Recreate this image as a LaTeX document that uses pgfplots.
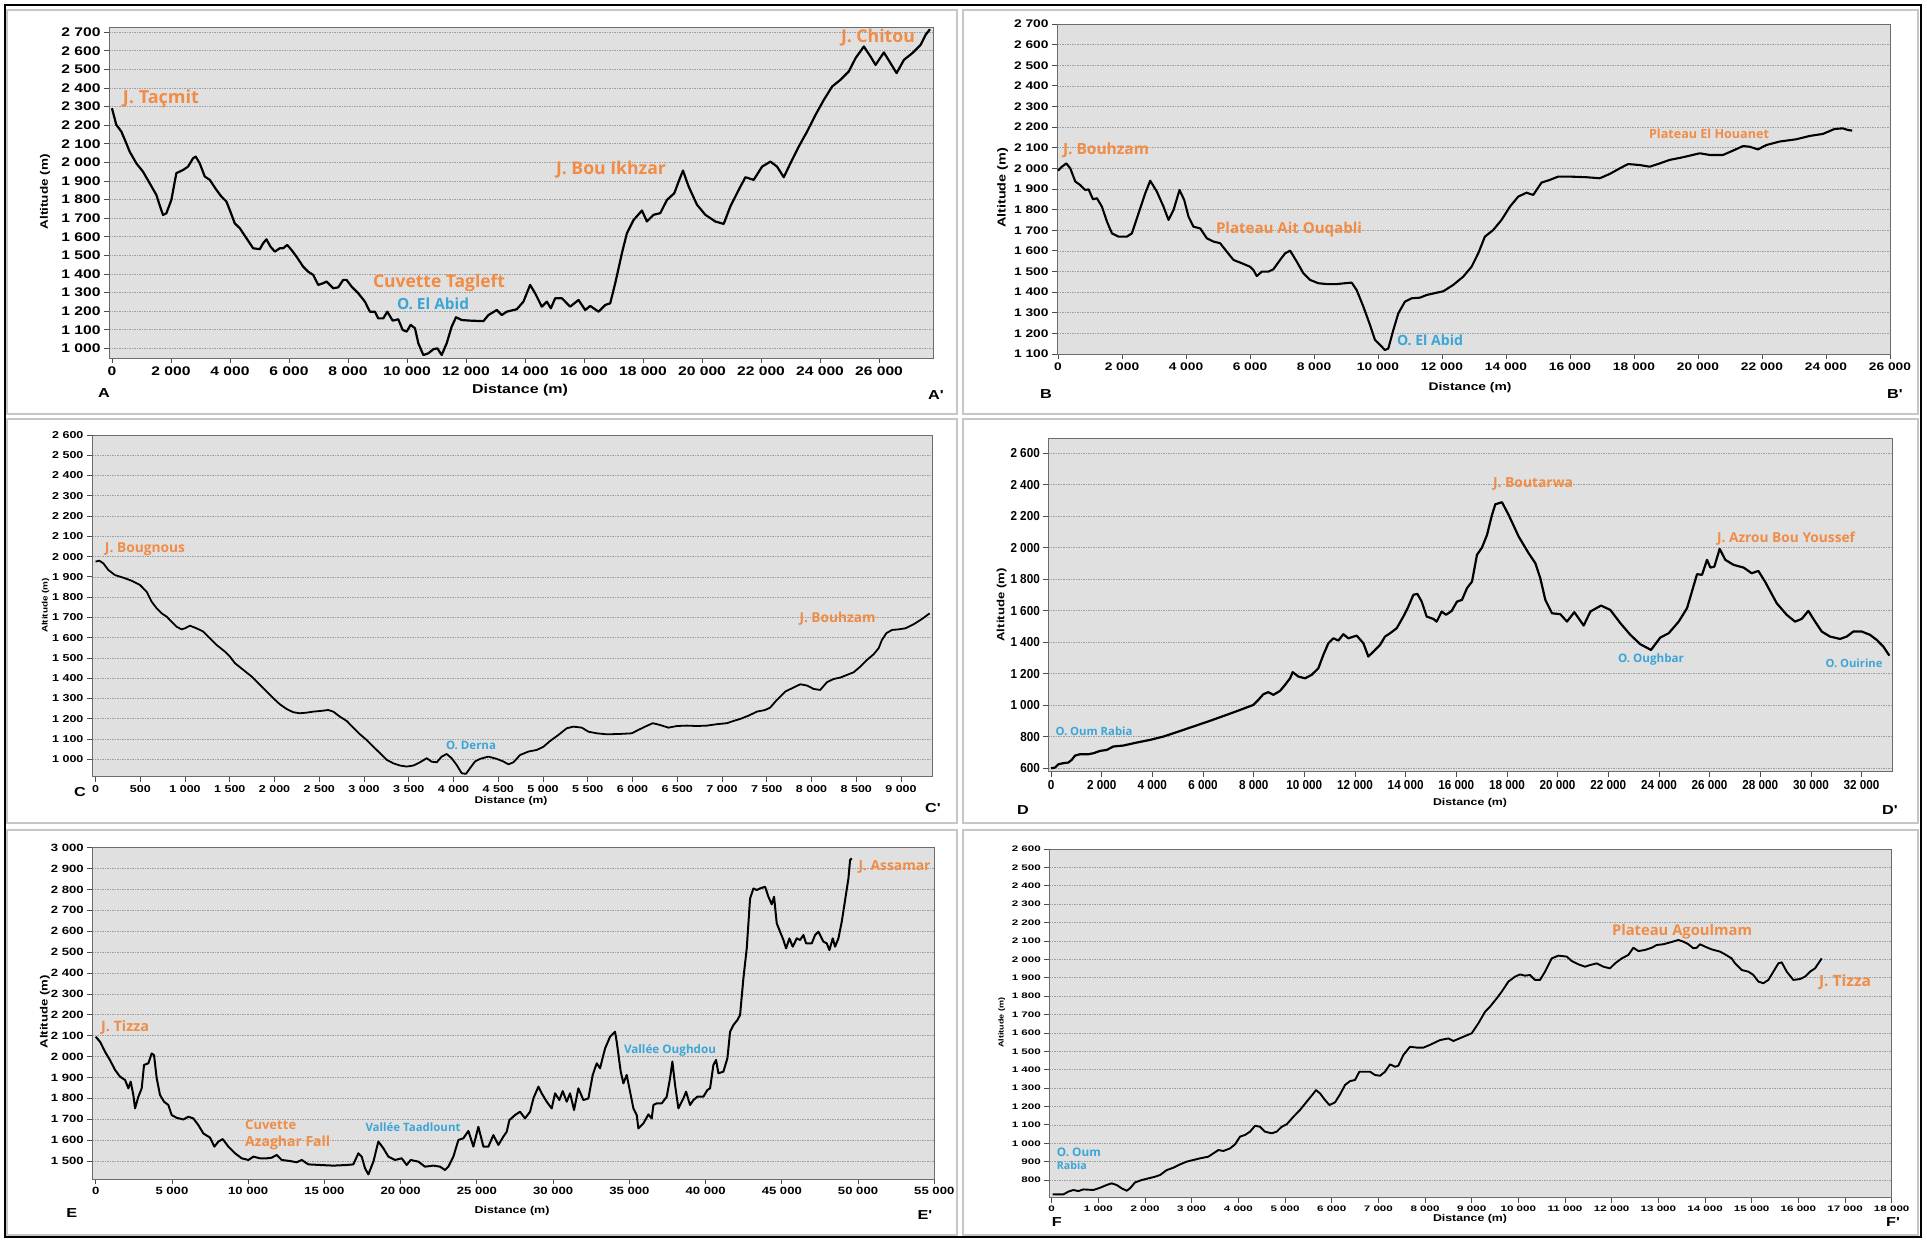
\documentclass[border=0pt]{standalone}
\usepackage{pgfplots}
\pgfplotsset{compat=1.18}
\usepackage{graphicx}
\usepackage{fontspec}
\setmainfont{Liberation Sans}
\newfontfamily\tkA{Liberation Sans}[FakeStretch=1.25]
\newfontfamily\tkN{Liberation Sans}[FakeStretch=0.9]
\newfontfamily\tkW{Liberation Sans}[FakeStretch=1.45]
\newfontfamily\ann{Open Sans}
\definecolor{orn}{RGB}{240,140,70}
\definecolor{blu}{RGB}{60,165,215}
\definecolor{plotbg}{RGB}{224,224,224}
\pgfplotsset{
  prof/.style={
    scale only axis, anchor=south west,
    axis background/.style={fill=plotbg},
    axis line style={draw=gray!85!black, line width=0.8pt},
    tick align=outside, xtick pos=bottom, ytick pos=left,
    major tick length=5pt,
    tick style={draw=gray!60!black, line width=0.8pt},
    ymajorgrids, major grid style={draw=gray!75, dash pattern=on 1.5pt off 1pt, line width=0.7pt},
    scaled ticks=false,
    /pgf/number format/assume math mode=true,
    /pgf/number format/1000 sep={\ },
    /pgf/number format/fixed,
  }
}
\newcommand\lab[4]{\node[text=#1, inner sep=0pt] at (#2) {\resizebox{#3pt}{!}{\ann\bfseries #4}};}
\newcommand\labw[4]{\node[text=#1, inner sep=0pt, anchor=west] at (#2) {\resizebox{#3pt}{!}{\ann\bfseries #4}};}
\newcommand\dist[2]{\node[inner sep=0pt] at (#1) {\resizebox{#2pt}{!}{\tkA\bfseries Distance (m)}};}
\newcommand\alt[2]{\node[inner sep=0pt, rotate=90] at (#1) {\resizebox{#2pt}{!}{\tkA\bfseries Altitude (m)}};}
\newcommand\plet[2]{\node[inner sep=0pt] at (#1) {\tkA\bfseries\fontsize{13}{14}\selectfont #2};}
\begin{document}
\begin{tikzpicture}[x=1pt,y=1pt]
\path[use as bounding box, fill=white] (0,0) rectangle (1927,1241);
% panel frames
\begin{scope}[draw=gray!45, line width=1.5pt]
\draw (7,827) rectangle (957,1231);
\draw (963,827) rectangle (1918,1231);
\draw (7,418) rectangle (957,822);
\draw (963,418) rectangle (1918,822);
\draw (7,6) rectangle (957,411);
\draw (963,6) rectangle (1918,411);
\end{scope}
\draw[line width=2.5pt] (5,4) rectangle (1921,1236);

% ---------------- A
\begin{axis}[prof, at={(109pt,883pt)}, width=824pt, height=331pt,
  xmin=-100, xmax=27830, ymin=948, ymax=2728,
  xtick={0,2000,...,26000}, ytick={1000,1100,...,2700},
  tick label style={font=\tkA\bfseries\fontsize{12.5}{13}\selectfont}]
\addplot[black, line width=2.2pt, line join=round, no markers] coordinates {(0,2291)(147,2202)(317,2166)(486,2103)(600,2058)(826,1995)(1052,1950)(1278,1888)(1505,1825)(1595,1780)(1731,1717)(1844,1726)(2014,1798)(2183,1942)(2410,1959)(2579,1977)(2749,2022)(2839,2031)(2975,1995)(3145,1924)(3314,1906)(3541,1852)(3710,1816)(3880,1789)(3993,1744)(4163,1672)(4333,1646)(4559,1592)(4785,1538)(5011,1533)(5124,1565)(5237,1586)(5373,1547)(5520,1520)(5690,1538)(5803,1538)(5939,1556)(6086,1529)(6256,1493)(6482,1439)(6652,1412)(6821,1395)(6991,1341)(7161,1350)(7274,1359)(7500,1323)(7670,1328)(7839,1368)(7952,1368)(8122,1332)(8348,1296)(8575,1251)(8744,1197)(8914,1197)(9027,1161)(9197,1161)(9333,1197)(9514,1149)(9706,1156)(9853,1099)(9989,1090)(10124,1126)(10271,1108)(10385,1027)(10554,964)(10724,973)(10894,995)(11029,1000)(11176,964)(11346,1027)(11516,1117)(11663,1167)(11855,1152)(12138,1149)(12590,1146)(12762,1179)(13044,1206)(13214,1179)(13382,1197)(13721,1210)(13948,1251)(14174,1341)(14344,1296)(14570,1224)(14740,1251)(14876,1215)(15023,1269)(15250,1269)(15532,1224)(15815,1260)(16041,1206)(16211,1228)(16493,1197)(16720,1233)(16889,1242)(17059,1350)(17285,1511)(17455,1619)(17681,1690)(17964,1741)(18133,1682)(18359,1718)(18586,1727)(18812,1798)(19061,1834)(19208,1897)(19355,1956)(19547,1870)(19830,1772)(20113,1718)(20452,1682)(20735,1669)(20961,1763)(21244,1852)(21470,1920)(21753,1906)(22036,1977)(22319,2004)(22545,1977)(22771,1920)(22997,1995)(23280,2085)(23563,2166)(23846,2255)(24129,2336)(24412,2408)(24694,2444)(24977,2489)(25203,2560)(25486,2623)(25712,2569)(25882,2524)(26165,2591)(26391,2533)(26595,2480)(26844,2551)(27127,2587)(27410,2632)(27580,2686)(27727,2716)};
\end{axis}
\lab{orn}{161,1142.3}{76}{J. Taçmit}
\lab{orn}{439,957.7}{132}{Cuvette Tagleft}
\lab{blu}{433,937.7}{72}{O. El Abid}
\lab{orn}{611,1071.7}{110}{J. Bou Ikhzar}
\lab{orn}{878,1203.3}{74}{J. Chitou}
\alt{45,1049}{75}
\dist{520,851}{96}
\plet{104,848}{A}
\plet{936,846}{A'}

% ---------------- B
\begin{axis}[prof, at={(1057pt,887pt)}, width=833pt, height=330pt,
  xmin=-30, xmax=26000, ymin=1100, ymax=2700,
  xtick={0,2000,...,26000}, ytick={1100,1200,...,2700},
  tick label style={font=\tkA\bfseries\fontsize{11}{12}\selectfont}]
\addplot[black, line width=2.1pt, line join=round, no markers] coordinates {(0,1989)(125,2008)(260,2024)(385,2000)(541,1936)(697,1919)(853,1895)(957,1898)(1093,1850)(1217,1855)(1374,1814)(1530,1742)(1686,1685)(1894,1669)(2154,1669)(2310,1685)(2518,1782)(2726,1879)(2883,1940)(3091,1887)(3299,1814)(3455,1750)(3611,1798)(3798,1895)(3944,1847)(4079,1766)(4235,1717)(4443,1709)(4652,1661)(4860,1645)(5068,1637)(5276,1596)(5484,1556)(5744,1540)(6004,1523)(6108,1507)(6212,1478)(6369,1499)(6577,1499)(6733,1511)(6941,1556)(7097,1588)(7253,1601)(7461,1548)(7670,1491)(7878,1459)(8138,1443)(8398,1439)(8710,1439)(8970,1443)(9178,1446)(9334,1410)(9542,1330)(9750,1241)(9906,1168)(10063,1144)(10219,1119)(10323,1127)(10479,1216)(10635,1297)(10843,1354)(11052,1370)(11312,1373)(11520,1386)(11832,1397)(12040,1404)(12352,1435)(12664,1475)(12924,1523)(13133,1588)(13341,1669)(13601,1701)(13861,1750)(14121,1814)(14382,1863)(14642,1882)(14850,1871)(15110,1931)(15370,1944)(15630,1960)(15995,1960)(16515,1957)(16931,1952)(17243,1973)(17555,2000)(17815,2021)(18180,2016)(18492,2008)(18804,2024)(19116,2041)(19532,2054)(20053,2073)(20365,2065)(20781,2065)(21093,2086)(21405,2108)(21613,2105)(21873,2092)(22134,2113)(22550,2130)(23070,2141)(23486,2157)(23903,2167)(24267,2191)(24527,2194)(24683,2186)(24818,2183)};
\end{axis}
\lab{orn}{1106,1091}{86}{J. Bouhzam}
\lab{orn}{1289,1011}{146}{Plateau Ait Ouqabli}
\lab{blu}{1430,901}{66}{O. El Abid}
\lab{orn}{1709,1107}{120}{Plateau El Houanet}
\alt{1002.7,1053}{80}
\dist{1470,853}{83}
\plet{1046,847}{B}
\plet{1895,847}{B'}

% ---------------- C
\begin{axis}[prof, at={(92pt,464.3pt)}, width=840.7pt, height=341.7pt,
  xmin=-40, xmax=9354, ymin=914, ymax=2600,
  xtick={0,500,...,9000}, ytick={1000,1100,...,2600},
  tick label style={font=\tkA\bfseries\fontsize{10}{11}\selectfont}]
\addplot[black, line width=1.8pt, line join=round, no markers] coordinates {(0,1975)(41,1980)(86,1967)(142,1934)(216,1909)(309,1896)(402,1881)(496,1860)(570,1827)(626,1778)(682,1745)(738,1720)(794,1704)(849,1679)(905,1654)(961,1641)(998,1646)(1054,1659)(1129,1646)(1203,1630)(1278,1597)(1352,1564)(1446,1531)(1502,1506)(1557,1474)(1651,1441)(1744,1408)(1837,1367)(1911,1334)(1986,1301)(2060,1271)(2135,1248)(2209,1232)(2284,1227)(2358,1230)(2433,1235)(2507,1238)(2601,1243)(2656,1235)(2731,1210)(2806,1189)(2880,1156)(2955,1123)(3029,1095)(3104,1062)(3178,1030)(3253,997)(3327,980)(3402,969)(3476,964)(3551,969)(3625,985)(3700,1005)(3756,988)(3812,985)(3867,1013)(3923,1026)(3979,1005)(4035,972)(4091,931)(4139,928)(4184,956)(4240,989)(4296,1002)(4389,1013)(4482,1002)(4557,989)(4613,975)(4669,985)(4743,1021)(4837,1038)(4930,1046)(5005,1062)(5078,1090)(5172,1120)(5265,1153)(5340,1161)(5433,1156)(5507,1136)(5601,1128)(5713,1123)(5861,1125)(5991,1128)(6066,1145)(6141,1161)(6226,1178)(6308,1169)(6402,1156)(6495,1164)(6607,1166)(6719,1164)(6830,1166)(6942,1173)(7054,1178)(7128,1189)(7203,1199)(7296,1215)(7389,1235)(7482,1243)(7538,1255)(7613,1293)(7706,1334)(7799,1354)(7874,1370)(7948,1364)(8023,1347)(8097,1342)(8172,1380)(8246,1396)(8321,1403)(8395,1416)(8470,1429)(8545,1457)(8619,1490)(8694,1518)(8750,1548)(8787,1589)(8836,1622)(8899,1638)(8973,1641)(9048,1646)(9141,1666)(9234,1692)(9320,1720)};
\end{axis}
\lab{orn}{145,692}{80}{J. Bougnous}
\lab{blu}{471,496}{50}{O. Derna}
\lab{orn}{837.5,622}{76}{J. Bouhzam}
\alt{45.5,635.5}{55}
\dist{511,440}{73}
\plet{80,449}{C}
\plet{933,433}{C'}

% ---------------- D
\begin{axis}[prof, at={(1048.3pt,469.3pt)}, width=844.4pt, height=333.4pt,
  xmin=-107, xmax=33230, ymin=578, ymax=2695,
  xtick={0,2000,...,32000}, ytick={600,800,...,2600},
  tick label style={font=\tkN\bfseries\fontsize{13}{14}\selectfont}]
\addplot[black, line width=2.2pt, line join=round, no markers] coordinates {(0,600)(158,604)(290,625)(487,632)(684,636)(816,653)(948,680)(1145,689)(1474,689)(1671,695)(1935,710)(2198,716)(2461,738)(2856,744)(3382,763)(3909,780)(4435,801)(4961,829)(5620,865)(6277,901)(6935,939)(7462,970)(7988,1002)(8186,1034)(8383,1070)(8580,1083)(8778,1066)(9041,1091)(9239,1129)(9436,1171)(9541,1210)(9765,1182)(10028,1171)(10291,1193)(10555,1235)(10752,1320)(10950,1394)(11147,1425)(11344,1411)(11541,1451)(11738,1425)(12067,1442)(12331,1394)(12528,1309)(12792,1351)(12989,1383)(13186,1436)(13384,1457)(13647,1489)(13910,1563)(14107,1626)(14305,1701)(14463,1707)(14634,1658)(14831,1563)(15094,1548)(15226,1531)(15424,1595)(15595,1574)(15818,1599)(16027,1658)(16225,1669)(16422,1743)(16620,1785)(16817,1955)(17014,2001)(17212,2081)(17409,2208)(17541,2276)(17804,2289)(18068,2208)(18462,2071)(18857,1965)(19120,1902)(19318,1806)(19515,1669)(19778,1584)(20107,1578)(20370,1531)(20660,1591)(21029,1506)(21293,1595)(21714,1633)(22082,1605)(22477,1521)(22872,1447)(23267,1387)(23688,1351)(24056,1430)(24385,1457)(24780,1531)(25109,1616)(25504,1832)(25701,1828)(25899,1923)(26030,1874)(26188,1880)(26398,1993)(26622,1923)(26951,1891)(27346,1874)(27662,1838)(27925,1853)(28188,1785)(28649,1648)(29044,1574)(29373,1531)(29637,1548)(29900,1599)(30097,1548)(30426,1468)(30755,1436)(31150,1421)(31413,1436)(31676,1468)(32005,1468)(32334,1447)(32597,1415)(32861,1372)(33098,1315)};
\end{axis}
\lab{blu}{1094,510}{77}{O. Oum Rabia}
\lab{orn}{1533,756.7}{80}{J. Boutarwa}
\lab{orn}{1786,702.7}{138}{J. Azrou Bou Youssef}
\lab{blu}{1651,581.7}{66}{O. Oughbar}
\lab{blu}{1854,577.7}{57}{O. Ouirine}
\alt{1001.7,636}{73}
\dist{1470,437.7}{74}
\plet{1023,431}{D}
\plet{1890,431}{D'}

% ---------------- E
\begin{axis}[prof, at={(92.3pt,62pt)}, width=842pt, height=331.3pt,
  xmin=-223, xmax=55000, ymin=1414, ymax=3000,
  xtick={0,5000,...,55000}, ytick={1500,1600,...,3000},
  tick label style={font=\tkA\bfseries\fontsize{10.5}{11}\selectfont}]
\addplot[black, line width=2pt, line join=round, no markers] coordinates {(0,2095)(284,2071)(612,2023)(940,1983)(1268,1936)(1596,1904)(1924,1888)(2142,1848)(2295,1880)(2470,1816)(2580,1752)(2798,1808)(3017,1848)(3170,1960)(3454,1968)(3673,2015)(3826,2007)(4001,1896)(4219,1816)(4482,1784)(4766,1768)(4985,1720)(5312,1707)(5750,1699)(6078,1712)(6406,1704)(6734,1672)(7061,1632)(7499,1612)(7783,1569)(8045,1593)(8329,1605)(8701,1569)(9138,1537)(9576,1513)(10013,1505)(10341,1521)(10778,1513)(11215,1513)(11543,1516)(11871,1529)(12199,1505)(12745,1500)(13183,1494)(13511,1505)(13948,1484)(14713,1481)(15588,1478)(16462,1481)(16899,1484)(17227,1537)(17446,1521)(17665,1465)(17883,1436)(18211,1497)(18539,1593)(18867,1561)(19195,1521)(19632,1505)(20070,1513)(20398,1481)(20660,1505)(21163,1497)(21600,1473)(22147,1478)(22584,1473)(22912,1457)(23131,1473)(23459,1521)(23787,1601)(24115,1609)(24443,1644)(24771,1569)(25099,1664)(25427,1569)(25753,1569)(26081,1624)(26409,1577)(26737,1617)(26956,1640)(27131,1696)(27503,1720)(27831,1736)(28159,1704)(28487,1736)(28706,1800)(29034,1856)(29252,1824)(29580,1784)(29908,1752)(30127,1824)(30411,1792)(30629,1835)(30892,1784)(31110,1824)(31373,1744)(31657,1848)(31985,1792)(32313,1800)(32597,1912)(32860,1968)(33078,1944)(33406,2039)(33734,2095)(34062,2119)(34171,2071)(34434,1928)(34609,1872)(34827,1912)(35046,1832)(35265,1752)(35483,1720)(35592,1656)(35920,1680)(36248,1723)(36467,1704)(36576,1768)(36795,1776)(37123,1776)(37451,1808)(37669,1896)(37822,1976)(37997,1864)(38216,1752)(38544,1800)(38719,1832)(38981,1768)(39200,1792)(39462,1808)(39856,1808)(40118,1840)(40293,1848)(40512,1960)(40687,1984)(40840,1920)(41168,1928)(41431,1992)(41606,2119)(41824,2151)(42086,2175)(42261,2199)(42480,2375)(42699,2518)(42917,2757)(43136,2805)(43355,2797)(43573,2805)(43901,2813)(44120,2765)(44338,2729)(44491,2765)(44666,2638)(44885,2598)(45103,2558)(45278,2518)(45497,2566)(45716,2526)(45978,2566)(46197,2558)(46416,2582)(46591,2542)(46962,2542)(47181,2582)(47400,2598)(47728,2550)(47946,2542)(48121,2510)(48340,2566)(48493,2526)(48712,2566)(48930,2646)(49149,2749)(49368,2853)(49477,2941)(49586,2949)};
\end{axis}
\lab{orn}{125,213.3}{48}{J. Tizza}
\labw{orn}{245,116}{51}{Cuvette}
\labw{orn}{245,97.7}{85}{Azaghar Fall}
\lab{blu}{413,114.3}{95}{Vallée Taadlount}
\lab{blu}{670,190.3}{92}{Vallée Oughdou}
\lab{orn}{894.5,374.3}{72}{J. Assamar}
\alt{45,229.3}{73}
\dist{512,30}{75}
\plet{71.7,28}{E}
\plet{925,26}{E'}

% ---------------- F
\begin{axis}[prof, at={(1049.3pt,43.3pt)}, width=842.4pt, height=348.7pt,
  xmin=-51, xmax=18000, ymin=704, ymax=2600,
  xtick={0,1000,...,18000}, ytick={800,900,...,2600},
  tick label style={font=\tkW\bfseries\fontsize{8}{9}\selectfont}]
\addplot[black, line width=1.9pt, line join=round, no markers] coordinates {(21,722)(250,722)(357,737)(464,746)(571,740)(679,749)(893,746)(1036,758)(1179,773)(1286,782)(1393,773)(1500,755)(1607,742)(1679,755)(1786,787)(1929,800)(2071,809)(2214,818)(2321,827)(2464,854)(2607,867)(2750,885)(2893,900)(3036,909)(3179,918)(3357,927)(3464,945)(3571,963)(3679,958)(3821,972)(3929,994)(4036,1036)(4143,1045)(4250,1063)(4357,1095)(4464,1090)(4571,1063)(4714,1054)(4821,1063)(4929,1090)(5036,1103)(5179,1144)(5321,1181)(5464,1226)(5593,1266)(5664,1289)(5750,1271)(5857,1235)(5950,1208)(6071,1222)(6179,1266)(6286,1317)(6393,1338)(6500,1344)(6593,1389)(6714,1389)(6821,1389)(6929,1371)(7036,1367)(7143,1389)(7250,1429)(7357,1416)(7429,1422)(7536,1480)(7679,1525)(7821,1520)(7964,1520)(8107,1535)(8321,1561)(8500,1570)(8607,1556)(8821,1579)(9000,1598)(9143,1652)(9286,1715)(9393,1743)(9536,1788)(9643,1824)(9786,1879)(9929,1906)(10036,1918)(10143,1911)(10250,1915)(10357,1888)(10464,1888)(10571,1933)(10714,2005)(10857,2020)(11036,2015)(11143,1991)(11286,1973)(11429,1960)(11536,1969)(11679,1978)(11821,1960)(11964,1951)(12071,1978)(12214,2005)(12357,2024)(12464,2063)(12571,2045)(12714,2051)(12857,2063)(12964,2078)(13107,2082)(13250,2092)(13429,2105)(13536,2096)(13643,2082)(13750,2060)(13821,2063)(13893,2082)(14000,2069)(14143,2054)(14321,2042)(14429,2027)(14571,2005)(14643,1978)(14786,1942)(14929,1933)(15036,1915)(15143,1879)(15250,1870)(15357,1888)(15464,1933)(15571,1978)(15643,1984)(15750,1933)(15893,1888)(16036,1893)(16143,1906)(16250,1933)(16357,1951)(16500,2005)};
\end{axis}
\labw{blu}{1056.7,88.5}{44}{O. Oum}
\labw{blu}{1056.7,76}{30}{Rabia}
\lab{orn}{1682,309.3}{140}{Plateau Agoulmam}
\lab{orn}{1845,258.7}{52}{J. Tizza}
\alt{1001.7,218}{50}
\dist{1470,22}{74}
\plet{1056.7,19.3}{F}
\plet{1893,19.3}{F'}
\end{tikzpicture}
\end{document}
